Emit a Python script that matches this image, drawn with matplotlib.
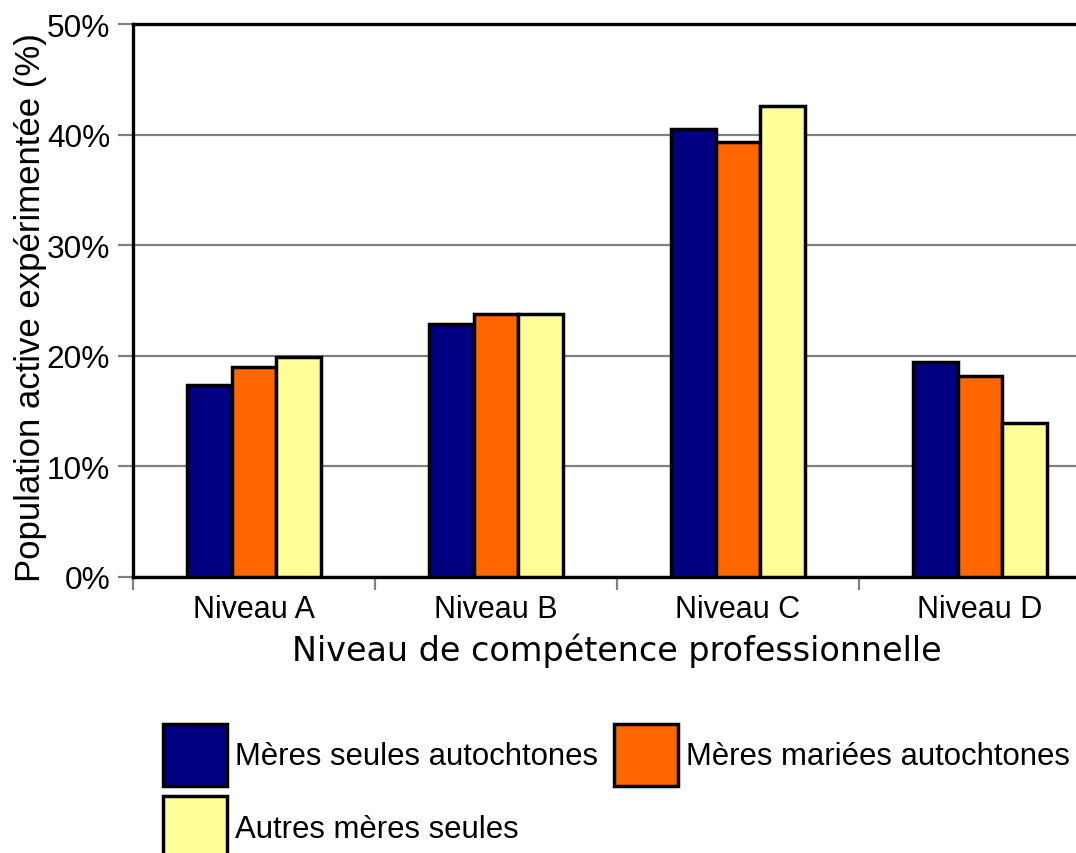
import matplotlib
matplotlib.use("Agg")
import matplotlib.pyplot as plt
import numpy as np
from matplotlib.ticker import PercentFormatter

plt.rcParams['font.family'] = ['Liberation Sans', 'DejaVu Sans']

categories = ['Niveau A', 'Niveau B', 'Niveau C', 'Niveau D']
series_names = ['Mères seules autochtones', 'Mères mariées autochtones', 'Autres mères seules']
meres_seules_autochtones = [17.3, 22.9, 40.5, 19.4]
meres_mariees_autochtones = [19.0, 23.8, 39.3, 18.2]
autres_meres_seules = [19.9, 23.8, 42.6, 13.9]
colors = ['#000080', '#FF6600', '#FFFF99']

grid_gray = '#808080'


def bar_chart():
    fig = plt.figure(figsize=(10.76, 8.54), dpi=100)
    # axes run past the right edge of the picture, as in the reference
    ax = fig.add_axes([0.1236, 0.3235, 0.8996, 0.6472])

    ind = np.arange(len(categories))
    width = 0.184  # width of one bar
    all_series = [meres_seules_autochtones, meres_mariees_autochtones, autres_meres_seules]
    bars = []
    for i, vals in enumerate(all_series):
        b = ax.bar(ind + (i - 1) * width, vals, width, color=colors[i],
                   edgecolor='black', linewidth=2.5, label=series_names[i], zorder=3)
        bars.append(b)

    ax.set_xlim(-0.5, 3.5)
    ax.set_ylim(0, 50)
    ax.set_yticks(np.arange(0, 51, 10))
    ax.yaxis.set_major_formatter(PercentFormatter(decimals=0))
    ax.grid(axis='y', color=grid_gray, linewidth=1.6)
    ax.set_axisbelow(True)

    ax.set_xticks(ind)
    ax.set_xticklabels(categories)
    ax.set_xticks([-0.5] + list(ind + 0.5), minor=True)
    ax.tick_params(axis='x', which='major', length=0, pad=12.5, labelsize=22)
    ax.tick_params(axis='x', which='minor', length=9, width=1.6, color=grid_gray)
    ax.tick_params(axis='y', length=11, width=1.6, color=grid_gray, pad=5.5, labelsize=22.8)

    for side in ['left', 'top', 'bottom']:
        ax.spines[side].set_linewidth(2.4)
        ax.spines[side].set_color('black')
    ax.spines['right'].set_visible(False)

    ax.set_ylabel('Population active expérimentée (%)', fontsize=25)
    ax.yaxis.set_label_coords(-0.0888, 0.488)
    ax.set_xlabel('Niveau de compétence professionnelle', fontsize=24, family='DejaVu Sans')
    ax.xaxis.set_label_coords(0.4997, -0.100)

    # column-major fill: navy + yellow in first column, orange in second
    handles = [bars[0], bars[2], bars[1]]
    labels = [series_names[0], series_names[2], series_names[1]]
    fig.legend(handles, labels, ncol=2, frameon=False, fontsize=22.4,
               loc='upper left', bbox_to_anchor=(162.7 / 1076, 1 - 725 / 854),
               borderpad=0, borderaxespad=0, handlelength=2.06, handleheight=2.69,
               handletextpad=0.26, labelspacing=0.33, columnspacing=0.52)

    fig.savefig('out.png', dpi=100)


bar_chart()
